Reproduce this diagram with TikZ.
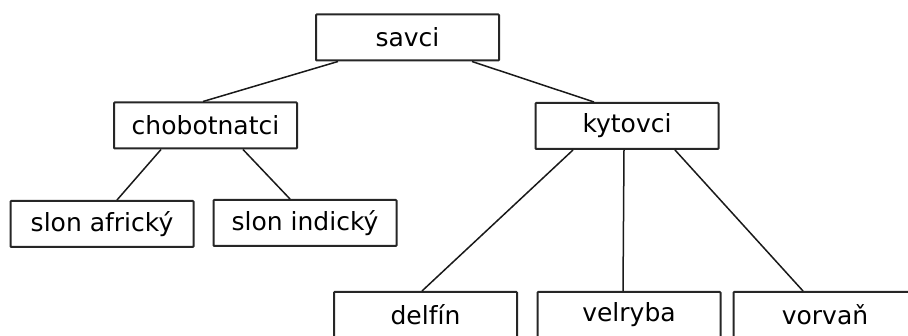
\documentclass[tikz,border=0pt]{standalone}
\usepackage{fontspec}
\setmainfont{DejaVu Sans}
\begin{document}
\begin{tikzpicture}[x=1pt,y=-1pt,
  taxbox/.style={draw=black!85, line width=2pt, rounded corners=0.8pt, minimum width=183pt, minimum height=46pt, inner sep=0pt, font=\fontsize{25}{30}\selectfont},
  link/.style={draw=black!90, line width=1.5pt}]
\useasboundingbox (0,0) rectangle (908,336);
\begin{scope}
\clip (0,0) rectangle (908,336);
\node[taxbox] (savci) at (407.5,37.5) {savci};
\node[taxbox] (chob) at (205.5,125.5) {chobotnatci};
\node[taxbox] (kyt) at (627,126) {kytovci};
\node[taxbox] (afr) at (102,224) {slon africký};
\node[taxbox] (ind) at (305,223) {slon indický};
\node[taxbox] (delf) at (425.5,315) {delfín};
\node[taxbox] (velr) at (629,315) {velryba};
\node[taxbox] (vorv) at (825,315) {vorvaň};
\draw[link] ([xshift=-69.5pt]savci.south) -- ([xshift=-2.5pt]chob.north);
\draw[link] ([xshift=64.5pt]savci.south) -- ([xshift=-33pt]kyt.north);
\draw[link] ([xshift=-44.5pt]chob.south) -- ([xshift=15pt]afr.north);
\draw[link] ([xshift=37.5pt]chob.south) -- ([xshift=-15pt]ind.north);
\draw[link] ([xshift=-54pt]kyt.south) -- ([xshift=-3.5pt]delf.north);
\draw[link] ([xshift=-3pt]kyt.south) -- ([xshift=-6pt]velr.north);
\draw[link] ([xshift=48pt]kyt.south) -- ([xshift=-22pt]vorv.north);
\end{scope}
\end{tikzpicture}
\end{document}
